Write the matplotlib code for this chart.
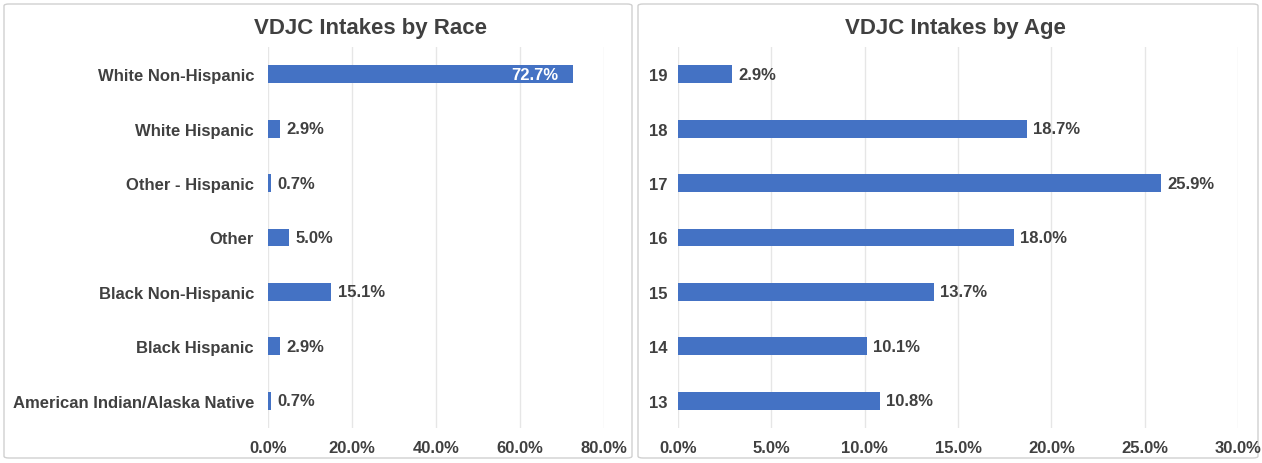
import matplotlib
matplotlib.use('Agg')
import matplotlib.pyplot as plt
from matplotlib.patches import FancyBboxPatch
from matplotlib.ticker import FuncFormatter

# Dados
race_labels = ['American Indian/Alaska Native', 'Black Hispanic', 'Black Non-Hispanic',
               'Other', 'Other - Hispanic', 'White Hispanic', 'White Non-Hispanic']
race_values = [0.7, 2.9, 15.1, 5.0, 0.7, 2.9, 72.7]

age_labels = ['13', '14', '15', '16', '17', '18', '19']
age_values = [10.8, 10.1, 13.7, 18.0, 25.9, 18.7, 2.9]

race_ticks = [0, 20, 40, 60, 80]
age_ticks = [0, 5, 10, 15, 20, 25, 30]

BAR = '#4472C4'
TXT = '#404040'
GRID = '#E6E6E6'
FS = 12

plt.rcParams['font.family'] = ['Liberation Sans', 'DejaVu Sans']

W, H = 1262, 464
fig = plt.figure(figsize=(W / 100, H / 100), dpi=100)

# molduras dos dois painéis
for x0, x1 in [(4, 632), (638, 1258)]:
    fig.patches.append(FancyBboxPatch((x0 / W, 5 / H), (x1 - x0) / W, (H - 10) / H,
                                      boxstyle='round,pad=0,rounding_size=0.004',
                                      transform=fig.transFigure, fc='none',
                                      ec='#D0D0D0', lw=1.0, zorder=-1))

def pct(v, pos):
    return f'{v:.1f}%'

def painel(rect, labels, values, ticks, titulo, pad, inside_thr, title_x):
    ax = fig.add_axes(rect)
    ax.set_facecolor('none')
    y = range(len(labels))
    ax.barh(y, values, height=0.33, color=BAR, zorder=3)
    ax.set_xlim(ticks[0], ticks[-1])
    ax.set_ylim(-0.5, len(labels) - 0.5)
    ax.set_xticks(ticks)
    ax.xaxis.set_major_formatter(FuncFormatter(pct))
    ax.set_yticks(list(y))
    ax.set_yticklabels(labels)
    ax.tick_params(length=0, labelsize=FS, labelcolor=TXT, pad=pad)
    ax.tick_params(axis='x', pad=9)
    for lab in ax.get_xticklabels() + ax.get_yticklabels():
        lab.set_fontweight('bold')
    ax.grid(axis='x', color=GRID, lw=1, zorder=0)
    ax.set_axisbelow(True)
    for s in ax.spines.values():
        s.set_visible(False)
    # rótulos de valor: dentro da barra se for muito longa, senão à direita
    for yi, v in zip(y, values):
        if v > inside_thr:
            ax.annotate(f'{v:.1f}%', (v, yi), xytext=(-11, 0), textcoords='offset points',
                        va='center', ha='right', color='white', fontsize=FS,
                        fontweight='bold', zorder=4)
        else:
            ax.annotate(f'{v:.1f}%', (v, yi), xytext=(4.5, 0), textcoords='offset points',
                        va='center', ha='left', color=TXT, fontsize=FS,
                        fontweight='bold', zorder=4)
    ax.set_title(titulo, fontsize=16, fontweight='bold', color=TXT, pad=10, x=title_x)
    return ax

bot = 1 - 429 / H
top = 1 - 48 / H
painel([268 / W, bot, (604 - 268) / W, top - bot], race_labels, race_values,
       race_ticks, 'VDJC Intakes by Race', 10, 60, (371 - 268) / 336)
painel([678 / W, bot, (1238 - 678) / W, top - bot], age_labels, age_values,
       age_ticks, 'VDJC Intakes by Age', 7.5, 100, (955 - 678) / 560)

plt.savefig('out.png', dpi=100)
